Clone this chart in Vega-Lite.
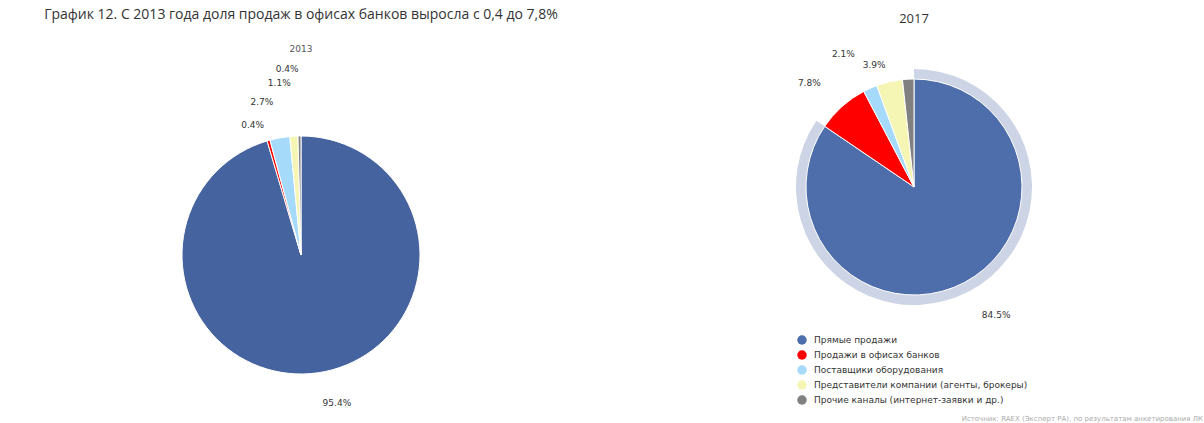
{
  "$schema": "https://vega.github.io/schema/vega-lite/v6.json",
  "padding": {"left": 5, "top": 8, "right": 0, "bottom": 0},
  "background": "white",
  "config": {"view": {"stroke": null}, "font": "DejaVu Sans"},
  "datasets": {
    "d2013": [
      {"cat": "Прямые продажи", "value": 0.954, "i": 1},
      {"cat": "Продажи в офисах банков", "value": 0.004, "i": 2},
      {"cat": "Поставщики оборудования", "value": 0.027, "i": 3},
      {"cat": "Представители компании (агенты, брокеры)", "value": 0.011, "i": 4},
      {"cat": "Прочие каналы (интернет-заявки и др.)", "value": 0.004, "i": 5}
    ],
    "d2017": [
      {"cat": "Прямые продажи", "value": 0.845, "i": 1},
      {"cat": "Продажи в офисах банков", "value": 0.078, "i": 2},
      {"cat": "Поставщики оборудования", "value": 0.021, "i": 3},
      {"cat": "Представители компании (агенты, брокеры)", "value": 0.039, "i": 4},
      {"cat": "Прочие каналы (интернет-заявки и др.)", "value": 0.017, "i": 5}
    ]
  },
  "title": {
    "text": "Источник: RAEX (Эксперт РА), по результатам анкетирования ЛК",
    "orient": "bottom", "anchor": "end", "fontSize": 7, "color": "#aaaaaa",
    "fontWeight": "normal", "offset": -60, "font": "DejaVu Sans"
  },
  "spacing": 28,
  "resolve": {"scale": {"color": "independent", "theta": "independent"}},
  "hconcat": [
    {
      "width": 592,
      "height": 440,
      "title": {
        "text": "График 12. С 2013 года доля продаж в офисах банков выросла с 0,4 до 7,8%",
        "subtitle": "2013",
        "fontSize": 14, "font": "Open Sans", "fontWeight": "normal", "color": "#333333",
        "subtitleFont": "DejaVu Sans", "subtitleFontSize": 9, "subtitleColor": "#555555",
        "subtitlePadding": 23, "offset": -19, "anchor": "middle"
      },
      "data": {"name": "d2013"},
      "encoding": {
        "theta": {"field": "value", "type": "quantitative", "stack": true},
        "order": {"field": "i", "type": "quantitative"},
        "text": {"field": "value", "type": "quantitative", "format": ".1%"}
      },
      "layer": [
        {
          "mark": {"type": "arc", "radius": 119, "stroke": "white", "strokeWidth": 1},
          "encoding": {
            "text": null,
            "color": {
              "field": "cat", "type": "nominal",
              "scale": {
                "domain": ["Прямые продажи", "Продажи в офисах банков", "Поставщики оборудования", "Представители компании (агенты, брокеры)", "Прочие каналы (интернет-заявки и др.)"],
                "range": ["#45639e", "#ff0000", "#a6dafb", "#f6f6b4", "#808080"]
              },
              "legend": null
            }
          }
        },
        {
          "mark": {"type": "text", "align": "left", "baseline": "middle", "fontSize": 9, "color": "#333333", "radius": 150},
          "encoding": {"opacity": {"condition": {"test": "datum.cat === 'Прямые продажи'", "value": 1}, "value": 0}}
        },
        {
          "mark": {"type": "text", "align": "right", "baseline": "middle", "fontSize": 9, "color": "#333333", "radius": 135},
          "encoding": {"opacity": {"condition": {"test": "datum.cat === 'Продажи в офисах банков'", "value": 1}, "value": 0}}
        },
        {
          "mark": {"type": "text", "align": "right", "baseline": "middle", "fontSize": 9, "color": "#333333", "radius": 155},
          "encoding": {"opacity": {"condition": {"test": "datum.cat === 'Поставщики оборудования'", "value": 1}, "value": 0}}
        },
        {
          "mark": {"type": "text", "align": "right", "baseline": "middle", "fontSize": 9, "color": "#333333", "radius": 172},
          "encoding": {"opacity": {"condition": {"test": "datum.cat === 'Представители компании (агенты, брокеры)'", "value": 1}, "value": 0}}
        },
        {
          "mark": {"type": "text", "align": "right", "baseline": "middle", "fontSize": 9, "color": "#333333", "radius": 186},
          "encoding": {"opacity": {"condition": {"test": "datum.cat === 'Прочие каналы (интернет-заявки и др.)'", "value": 1}, "value": 0}}
        }
      ]
    },
    {
      "width": 578,
      "height": 304,
      "title": {"text": "2017", "fontSize": 13, "font": "Open Sans", "fontWeight": "normal", "color": "#333333", "offset": 9, "anchor": "middle"},
      "data": {"name": "d2017"},
      "encoding": {
        "theta": {"field": "value", "type": "quantitative", "stack": true},
        "order": {"field": "i", "type": "quantitative"},
        "text": {"field": "value", "type": "quantitative", "format": ".1%"}
      },
      "layer": [
        {
          "mark": {"type": "arc", "radius": 118, "radius2": 108, "color": "#ccd4e5"},
          "encoding": {
            "text": null,
            "opacity": {"condition": {"test": "datum.cat === 'Прямые продажи'", "value": 1}, "value": 0}
          }
        },
        {
          "mark": {"type": "arc", "radius": 108, "stroke": "white", "strokeWidth": 1},
          "encoding": {
            "text": null,
            "color": {
              "field": "cat", "type": "nominal",
              "scale": {
                "domain": ["Прямые продажи", "Продажи в офисах банков", "Поставщики оборудования", "Представители компании (агенты, брокеры)", "Прочие каналы (интернет-заявки и др.)"],
                "range": ["#4e6dab", "#ff0000", "#a6dafb", "#f6f6b4", "#808080"]
              },
              "legend": {
                "orient": "none", "legendX": 172, "legendY": 300, "title": null,
                "symbolType": "circle", "symbolSize": 90, "symbolStrokeWidth": 0,
                "labelFontSize": 9, "labelColor": "#333333", "labelFont": "DejaVu Sans",
                "labelLimit": 400, "rowPadding": 5, "labelOffset": 7
              }
            }
          }
        },
        {
          "mark": {"type": "text", "align": "left", "baseline": "middle", "fontSize": 9, "color": "#333333", "radius": 145},
          "encoding": {"opacity": {"condition": {"test": "datum.cat === 'Прямые продажи'", "value": 1}, "value": 0}}
        },
        {
          "mark": {"type": "text", "align": "right", "baseline": "middle", "fontSize": 9, "color": "#333333", "radius": 140},
          "encoding": {"opacity": {"condition": {"test": "datum.cat === 'Продажи в офисах банков'", "value": 1}, "value": 0}}
        },
        {
          "mark": {"type": "text", "align": "right", "baseline": "middle", "fontSize": 9, "color": "#333333", "radius": 146},
          "encoding": {"opacity": {"condition": {"test": "datum.cat === 'Поставщики оборудования'", "value": 1}, "value": 0}}
        },
        {
          "mark": {"type": "text", "align": "right", "baseline": "middle", "fontSize": 9, "color": "#333333", "radius": 125},
          "encoding": {"opacity": {"condition": {"test": "datum.cat === 'Представители компании (агенты, брокеры)'", "value": 1}, "value": 0}}
        }
      ]
    }
  ]
}
